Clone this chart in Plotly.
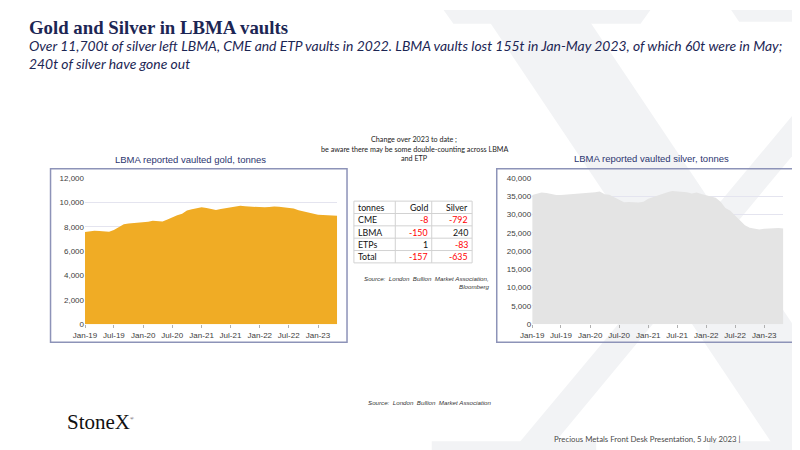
import pandas as pd
import plotly.graph_objects as go

# monthly data, Jan-19 .. May-23 (tonnes)
months = pd.date_range("2019-01-01", "2023-05-01", freq="MS")

gold_t = [7570, 7620, 7680, 7660, 7610, 7600, 7730, 7950, 8200, 8270, 8290, 8320,
          8370, 8410, 8490, 8460, 8430, 8600, 8800, 8950, 9070, 9330, 9450, 9500,
          9600, 9550, 9450, 9380, 9470, 9530, 9580, 9680, 9720, 9680, 9660, 9620,
          9590, 9600, 9630, 9670, 9640, 9600, 9590, 9500, 9360, 9270, 9180, 9050,
          8990, 8960, 8950, 8950, 8900]

silver_t = [35350, 35700, 36050, 35900, 35600, 35400, 35350, 35450, 35550, 35600, 35850, 35950,
            35970, 36100, 36330, 35550, 35450, 34800, 34000, 33400, 33450, 33350, 33300, 33550,
            34350, 34800, 35250, 35700, 36150, 36500, 36420, 36350, 36150, 35800, 36050, 35650,
            35250, 34950, 34600, 33550, 31800, 31050, 29700, 28450, 27100, 26400, 26130, 25950,
            26130, 26200, 26300, 26300, 26220]

# change over 2023 to date
tbl_header = ["tonnes", "Gold", "Silver"]
tbl_rows = ["CME", "LBMA", "ETPs", "Total"]
tbl_gold = [-8, -150, 1, -157]
tbl_silver = [-792, 240, -83, -635]

NAVY = "#1c2654"
W, H = 800, 450


def px(x):
    return x / W


def py(y):
    return 1 - y / H


fig = go.Figure()

# faint serif "X" watermark behind everything (StoneX logo)
wm = "#f2f3f5"
wm_polys = [
    [(470, 0), (572, 0), (872, 450), (770, 450)],        # thick stroke
    [(872, 0), (905, 0), (534, 450), (498, 450)],        # thin stroke
    [(430, -2), (640, -2), (630, 12), (440, 12)],         # top-left serif
    [(722, -2), (810, -2), (810, 10), (730, 10)],         # top-right serif
    [(418, 438), (585, 438), (585, 452), (418, 452)],     # bottom-left serif
    [(700, 438), (810, 438), (810, 452), (700, 452)],     # bottom-right serif
]
for poly in wm_polys:
    path = "M " + " L ".join(f"{px(x):.4f},{py(y):.4f}" for x, y in poly) + " Z"
    fig.add_shape(type="path", path=path, xref="paper", yref="paper",
                  fillcolor=wm, line=dict(width=0), layer="below")

fig.add_trace(go.Scatter(x=months, y=gold_t, mode="lines", fill="tozeroy",
                         line=dict(width=0, color="#f0ac25"), fillcolor="#f0ac25",
                         showlegend=False, xaxis="x", yaxis="y"))

fig.add_trace(go.Scatter(x=months, y=silver_t, mode="lines", fill="tozeroy",
                         line=dict(width=0, color="#e4e4e4"), fillcolor="#e4e4e4",
                         showlegend=False, xaxis="x2", yaxis="y2"))

tick_font = dict(family="Liberation Sans", size=8, color="#404040")
grid = "#e4e4ef"


def xaxis(dom, anchor):
    return dict(domain=dom, type="date", anchor=anchor,
                range=[months[0], months[-1]],
                tickvals=list(months[::6]), tickformat="%b-%y",
                showgrid=False, showline=False, zeroline=False,
                ticks="outside", ticklen=3, tickcolor="#b0b0b0",
                tickfont=tick_font, fixedrange=True)


def yaxis(dom, top, step, anchor):
    return dict(domain=dom, range=[0, top], dtick=step, tickformat=",",
                showgrid=True, gridcolor=grid, gridwidth=1, zeroline=False,
                showline=False, tickfont=tick_font, ticks="", anchor=anchor,
                fixedrange=True)


fig.update_layout(
    width=W, height=H,
    margin=dict(l=0, r=0, t=0, b=0),
    paper_bgcolor="white", plot_bgcolor="rgba(0,0,0,0)",
    xaxis=xaxis([px(66), px(322)], "y"),
    yaxis=yaxis([py(318.5), py(169.5)], 12000, 2000, "x"),
    xaxis2=xaxis([px(520), px(775)], "y2"),
    yaxis2=yaxis([py(318.5), py(169.5)], 40000, 5000, "x2"),
    showlegend=False,
)

# chart frames
for x0, x1 in [(31, 332), (484, 785)]:
    fig.add_shape(type="rect", xref="paper", yref="paper",
                  x0=px(x0), x1=px(x1), y0=py(337), y1=py(160),
                  line=dict(color="#8d93b8", width=1.5), fillcolor="rgba(0,0,0,0)")

# small table: grid lines and cell texts
col_x = [339, 381, 418, 459]
row_y0, row_h = 193, 12.6
n_rows = len(tbl_rows) + 1
grid_c = "#d2d2d2"
fig.add_shape(type="rect", xref="paper", yref="paper",
              x0=px(col_x[0]), x1=px(col_x[-1]),
              y0=py(row_y0 + n_rows * row_h), y1=py(row_y0),
              line=dict(color=grid_c, width=1), fillcolor="white")
for i in range(1, n_rows):
    fig.add_shape(type="line", xref="paper", yref="paper",
                  x0=px(col_x[0]), x1=px(col_x[-1]),
                  y0=py(row_y0 + i * row_h), y1=py(row_y0 + i * row_h),
                  line=dict(color=grid_c, width=1))
for cx in col_x[1:-1]:
    fig.add_shape(type="line", xref="paper", yref="paper",
                  x0=px(cx), x1=px(cx), y0=py(row_y0), y1=py(row_y0 + n_rows * row_h),
                  line=dict(color=grid_c, width=1))

cell_font = dict(family="Lato", size=8.8)
table_rows = [tbl_header] + [[r, g, s] for r, g, s in zip(tbl_rows, tbl_gold, tbl_silver)]
for i, row in enumerate(table_rows):
    yc = row_y0 + (i + 0.5) * row_h
    for j, val in enumerate(row):
        is_num = isinstance(val, (int, float))
        color = "#ff0000" if is_num and val < 0 else "#111111"
        if j == 0:
            x, anchor = col_x[0] + 2, "left"
        else:
            x, anchor = col_x[j + 1] - 2, "right"
        fig.add_annotation(text=str(val), x=px(x), y=py(yc), xref="paper", yref="paper",
                           xanchor=anchor, yanchor="middle", align=anchor,
                           showarrow=False, font=dict(cell_font, color=color))

notes = [
    # text, x, y, anchor, font
    ("<b>Gold and Silver in LBMA vaults</b>", 7, 16, "left",
     dict(family="Liberation Serif", size=18.8, color=NAVY)),
    ("<i>Over 11,700t of silver left LBMA, CME and ETP vaults in 2022. LBMA vaults lost 155t in Jan-May 2023, of which 60t were in May;</i>",
     7, 34, "left", dict(family="Lato", size=13.9, color=NAVY)),
    ("<i>240t of silver have gone out</i>", 7, 53, "left",
     dict(family="Lato", size=13.9, color=NAVY)),
    ("LBMA reported vaulted gold, tonnes", 173, 151, "center",
     dict(family="Liberation Sans", size=9.5, color="#2c3670")),
    ("LBMA reported vaulted silver, tonnes", 641, 150, "center",
     dict(family="Liberation Sans", size=9.5, color="#2c3670")),
    ("Change over 2023 to date ;", 400, 130, "center",
     dict(family="Lato", size=7.2, color="#222222")),
    ("be aware there may be some double-counting across LBMA", 400, 140, "center",
     dict(family="Lato", size=7.2, color="#222222")),
    ("and ETP", 400, 150, "center",
     dict(family="Lato", size=7.2, color="#222222")),
    ("<i>Source:  London  Bullion  Market Association,</i>", 478, 272, "right",
     dict(family="Liberation Sans", size=6.2, color="#333333")),
    ("<i>Bloomberg</i>", 478, 280, "right",
     dict(family="Liberation Sans", size=6.2, color="#333333")),
    ("<i>Source:  London  Bullion  Market Association</i>", 480, 398, "right",
     dict(family="Liberation Sans", size=6.2, color="#333333")),
    ("StoneX<sup><span style='font-size:5px'>®</span></sup>", 46, 418, "left",
     dict(family="Liberation Serif", size=21, color="#111111")),
    ("Precious Metals Front Desk Presentation, 5 July 2023 |", 734, 436, "right",
     dict(family="Lato", size=7.8, color="#4a4a4a")),
]
for text, x, y, anchor, font in notes:
    fig.add_annotation(text=text, x=px(x), y=py(y), xref="paper", yref="paper",
                       xanchor=anchor, yanchor="middle", align=anchor,
                       showarrow=False, font=font)

fig.write_html("out.html")
